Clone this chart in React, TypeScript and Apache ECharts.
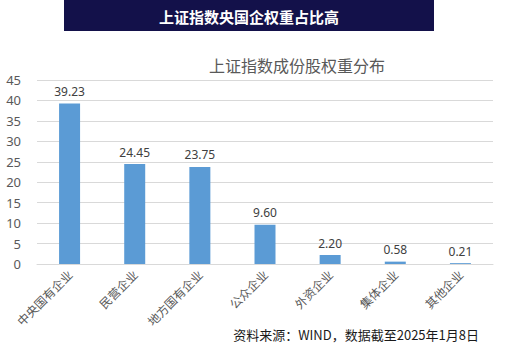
import React, { useEffect, useRef } from "react";
import * as echarts from "echarts";

const categories = ["中央国有企业", "民营企业", "地方国有企业", "公众企业", "外资企业", "集体企业", "其他企业"];
const values = [39.23, 24.45, 23.75, 9.6, 2.2, 0.58, 0.21];
const bannerTitle = "上证指数央国企权重占比高";
const chartTitle = "上证指数成份股权重分布";
const sourceNote = "资料来源：WIND，数据截至2025年1月8日";

const FONT = "'Noto Sans CJK SC', 'Noto Sans', sans-serif";

export default function App() {
  const ref = useRef<HTMLDivElement>(null);
  useEffect(() => {
    if (!ref.current) return;
    const chart = echarts.init(ref.current, null, { renderer: "svg" });
    chart.setOption({
      animation: false,
      backgroundColor: "#ffffff",
      textStyle: { fontFamily: FONT },
      grid: { left: 37, right: 16, top: 80, bottom: 87, containLabel: false },
      title: {
        text: chartTitle,
        left: 292,
        top: 52,
        textAlign: "center",
        textStyle: { fontSize: 16, fontWeight: "normal", color: "#595959", fontFamily: FONT },
      },
      graphic: [
        {
          type: "rect",
          shape: { x: 64, y: 0, width: 370, height: 31 },
          style: { fill: "#13114a" },
        },
        {
          type: "text",
          x: 249,
          y: 16,
          style: {
            text: bannerTitle,
            fill: "#ffffff",
            font: `bold 15px ${FONT}`,
            align: "center",
            verticalAlign: "middle",
          },
        },
        {
          type: "text",
          x: 479,
          y: 334,
          style: {
            text: sourceNote,
            fill: "#1a1a1a",
            font: `13px ${FONT}`,
            align: "right",
            verticalAlign: "middle",
          },
        },
      ],
      xAxis: {
        type: "category",
        data: categories,
        axisTick: { show: false },
        axisLine: { lineStyle: { color: "#d9d9d9" } },
        axisLabel: { rotate: 45, color: "#595959", fontSize: 12, margin: 8, fontFamily: FONT },
      },
      yAxis: {
        type: "value",
        min: 0,
        max: 45,
        interval: 5,
        axisLine: { show: false },
        axisTick: { show: false },
        axisLabel: { color: "#595959", fontSize: 13, margin: 16, fontFamily: "'Noto Sans', sans-serif" },
        splitLine: { lineStyle: { color: "#d9d9d9" } },
      },
      series: [
        {
          type: "bar",
          data: values,
          barWidth: 21,
          itemStyle: { color: "#5b9bd5" },
          label: {
            show: true,
            position: "top",
            distance: 6,
            color: "#404040",
            fontSize: 12,
            fontFamily: "'Noto Sans', sans-serif",
            formatter: (p: any) => Number(p.value).toFixed(2),
          },
        },
      ],
    });
    return () => chart.dispose();
  }, []);
  return <div ref={ref} style={{ width: 509, height: 351, position: "absolute", left: 0, top: 0 }} />;
}
